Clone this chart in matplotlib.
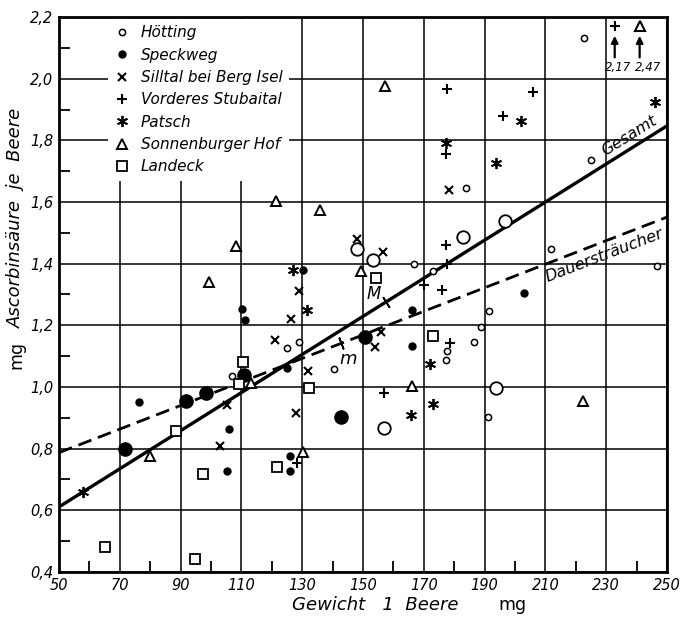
import matplotlib
matplotlib.use('Agg')
import matplotlib.pyplot as plt
from matplotlib.lines import Line2D

# --- data (x: Gewicht 1 Beere mg, y: mg Ascorbinsaeure je Beere)
hoetting_x = [222.8, 183.8, 225.0, 211.7, 246.7, 166.7, 173.0, 191.6, 188.8, 186.5,
              177.5, 177.2, 191.2, 124.9, 129.0, 140.6, 106.9]
hoetting_y = [2.133, 1.645, 1.737, 1.449, 1.393, 1.400, 1.377, 1.248, 1.194, 1.147,
              1.117, 1.087, 0.902, 1.128, 1.147, 1.057, 1.034]
hoetting_big_x = [148.1, 153.3, 182.9, 196.6, 193.7, 156.8]
hoetting_big_y = [1.447, 1.412, 1.485, 1.539, 0.998, 0.868]

speck_x = [76.4, 106.0, 105.3, 125.9, 126.0, 125.1, 110.3, 111.3, 130.3, 166.2, 166.0, 203.0]
speck_y = [0.951, 0.865, 0.726, 0.777, 0.726, 1.062, 1.253, 1.217, 1.378, 1.251, 1.133, 1.304]
speck_big_x = [71.8, 91.9, 98.5, 110.8, 150.8, 142.7]
speck_big_y = [0.799, 0.954, 0.981, 1.039, 1.163, 0.904]

silltal_x = [178.3, 148.1, 156.5, 129.1, 126.2, 121.0, 132.0, 156.0, 153.8, 105.3, 128.1, 102.9]
silltal_y = [1.640, 1.479, 1.439, 1.311, 1.219, 1.154, 1.051, 1.177, 1.129, 0.943, 0.916, 0.810]

stubai_x = [177.7, 205.8, 196.1, 177.2, 177.4, 177.6, 170.0, 176.1, 178.7, 156.8, 128.4]
stubai_y = [1.965, 1.957, 1.879, 1.756, 1.460, 1.398, 1.332, 1.314, 1.144, 0.980, 0.755]

patsch_x = [246.1, 201.9, 177.2, 193.7, 126.9, 131.7, 172.2, 173.0, 165.8, 58.0]
patsch_y = [1.924, 1.864, 1.792, 1.726, 1.380, 1.250, 1.075, 0.945, 0.910, 0.658]

sonnen_x = [121.5, 135.8, 157.3, 108.3, 99.3, 149.3, 113.0, 166.1, 222.5, 79.8, 130.3]
sonnen_y = [1.604, 1.575, 1.976, 1.458, 1.339, 1.377, 1.014, 1.002, 0.954, 0.777, 0.788]

landeck_x = [154.2, 110.6, 109.2, 132.1, 173.1, 88.5, 97.3, 121.8, 65.2, 94.9]
landeck_y = [1.354, 1.082, 1.009, 0.997, 1.166, 0.856, 0.719, 0.742, 0.482, 0.441]

# points beyond the top of the scale
over_x = [232.8, 241.0]
over_labels = ['2,17', '2,47']
over_markers = ['+', '^']

# regression lines (end points at x = 50 and 250)
line_x = [50, 250]
gesamt_y = [0.611, 1.847]
dauer_y = [0.787, 1.551]

xticks = [50, 70, 90, 110, 130, 150, 170, 190, 210, 230, 250]
yticks = [0.4, 0.6, 0.8, 1.0, 1.2, 1.4, 1.6, 1.8, 2.0, 2.2]

fig = plt.figure(figsize=(6.82, 6.19), dpi=100)
ax = fig.add_axes([0.0865, 0.076, 0.8915, 0.8965])
ax.set_xlim(50, 250)
ax.set_ylim(0.4, 2.2)

ax.set_xticks(xticks)
ax.set_yticks(yticks)
ax.set_xticks([60 + 20 * i for i in range(10)], minor=True)
ax.set_yticks([0.5 + 0.2 * i for i in range(9)], minor=True)
ax.set_xticklabels([str(t) for t in xticks], fontstyle='italic', fontsize=10.5)
ax.set_yticklabels([('%.1f' % t).replace('.', ',') for t in yticks], fontstyle='italic', fontsize=10.5)
ax.tick_params(which='major', length=0, pad=4)
ax.tick_params(which='minor', direction='in', length=8, width=1.3, color='k')
ax.grid(True, which='major', color='k', lw=1.1, zorder=0)
for s in ax.spines.values():
    s.set_linewidth(2)

k = dict(color='k', linestyle='none', zorder=3)
ax.plot(hoetting_x, hoetting_y, marker='o', ms=4.5, mfc='white', mew=1.1, **k)
ax.plot(hoetting_big_x, hoetting_big_y, marker='o', ms=9, mfc='white', mew=1.3, **k)
ax.plot(speck_x, speck_y, marker='o', ms=5, **k)
ax.plot(speck_big_x, speck_big_y, marker='o', ms=9.5, **k)
ax.plot(silltal_x, silltal_y, marker='x', ms=6, mew=1.5, **k)
ax.plot(stubai_x, stubai_y, marker='+', ms=7.5, mew=1.5, **k)
ax.plot(patsch_x, patsch_y, marker=(6, 2, 0), ms=8, mew=1.3, **k)
ax.plot(sonnen_x, sonnen_y, marker='^', ms=7, mfc='white', mew=1.4, **k)
ax.plot(landeck_x, landeck_y, marker='s', ms=6.5, mfc='white', mew=1.3, **k)

# the two points off the scale
for i, (x, lab, m) in enumerate(zip(over_x, over_labels, over_markers)):
    ax.plot(x, 2.172, marker=m, ms=7.5, mfc='white', mew=1.5, **k)
    ax.annotate('', xy=(x, 2.148), xytext=(x, 2.06),
                arrowprops=dict(arrowstyle='-|>', color='k', lw=1.6, mutation_scale=10))
    ax.text(x + 1.0 + 1.8 * i, 2.035, lab, ha='center', va='center', fontsize=8.5, fontstyle='italic')

# fit lines
ax.plot(line_x, gesamt_y, color='k', lw=2.4, zorder=2)
ax.plot(line_x, dauer_y, color='k', lw=2.0, dashes=(5, 2.5), zorder=2)

ax.text(237.5, 1.815, 'Gesamt', rotation=32, fontsize=11.5, fontstyle='italic',
        ha='center', va='center', rotation_mode='anchor')
ax.text(229.5, 1.428, 'Dauersträucher', rotation=21, fontsize=11.5, fontstyle='italic',
        ha='center', va='center', rotation_mode='anchor')

# M and m marks on the lines
gx = 157.6
gy = gesamt_y[0] + (gesamt_y[1] - gesamt_y[0]) * (gx - 50) / 200
dx = 142.7
dy = dauer_y[0] + (dauer_y[1] - dauer_y[0]) * (dx - 50) / 200
ax.plot(gx, gy, marker=(2, 2, 32), ms=9, mew=1.2, **k)
ax.plot(dx, dy, marker=(2, 2, 21), ms=9, mew=1.2, **k)
ax.text(153.6, 1.30, 'M', fontsize=12, fontstyle='italic', ha='center', va='center')
ax.text(145.2, 1.09, 'm', fontsize=13, fontstyle='italic', ha='center', va='center')

# legend
handles = [
    Line2D([], [], marker='o', ms=4.5, mfc='white', mew=1.1, color='k', ls='none'),
    Line2D([], [], marker='o', ms=5, color='k', ls='none'),
    Line2D([], [], marker='x', ms=6, mew=1.5, color='k', ls='none'),
    Line2D([], [], marker='+', ms=7.5, mew=1.5, color='k', ls='none'),
    Line2D([], [], marker=(6, 2, 0), ms=8, mew=1.3, color='k', ls='none'),
    Line2D([], [], marker='^', ms=7, mfc='white', mew=1.4, color='k', ls='none'),
    Line2D([], [], marker='s', ms=6.5, mfc='white', mew=1.3, color='k', ls='none'),
]
labels = ['Hötting', 'Speckweg', 'Silltal bei Berg Isel', 'Vorderes Stubaital',
          'Patsch', 'Sonnenburger Hof', 'Landeck']
leg = ax.legend(handles, labels, loc='upper left', bbox_to_anchor=(0.078, 1.0),
                prop=dict(style='italic', size=11), frameon=True, fancybox=False,
                framealpha=1, facecolor='white', edgecolor='none', borderpad=0.45,
                borderaxespad=0.1, labelspacing=0.48, handlelength=1.0, handletextpad=0.7)
leg.set_zorder(5)

# axis labels
fig.text(0.55, 0.022, 'Gewicht   1  Beere', fontsize=13, fontstyle='italic', ha='center', va='center')
fig.text(0.752, 0.022, 'mg', fontsize=12.5, ha='center', va='center')
fig.text(0.024, 0.426, 'mg', fontsize=12.5, rotation=90, ha='center', va='center')
fig.text(0.024, 0.648, 'Ascorbinsäure  je  Beere', fontsize=13, fontstyle='italic',
         rotation=90, ha='center', va='center')

fig.savefig('out.png', dpi=100)
